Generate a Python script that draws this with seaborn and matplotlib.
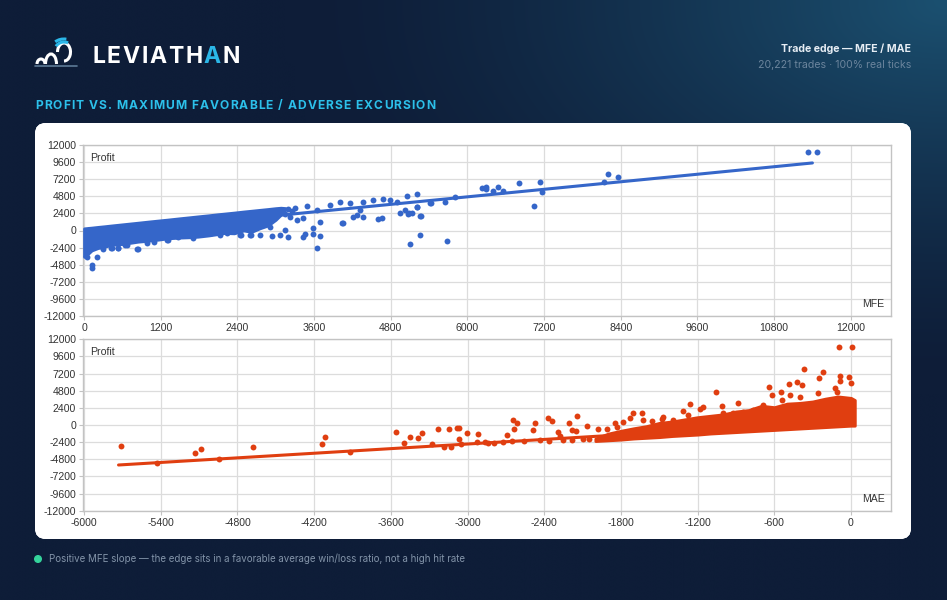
import numpy as np
import pandas as pd
import seaborn as sns
import matplotlib.pyplot as plt
from matplotlib.patches import FancyBboxPatch, Arc, Circle

sns.set_style("white")
plt.rcParams['font.family'] = ['Liberation Sans', 'DejaVu Sans']
plt.rcParams['axes.unicode_minus'] = False

## values
profit_ticks = [-12000, -9600, -7200, -4800, -2400, 0, 2400, 4800, 7200, 9600, 12000]
mfe_ticks = [0, 1200, 2400, 3600, 4800, 6000, 7200, 8400, 9600, 10800, 12000]
mae_ticks = [-6000, -5400, -4800, -4200, -3600, -3000, -2400, -1800, -1200, -600, 0]

# dense cloud of trades (outline of the solid band)
mfe_band = [0, 30, 60, 120, 220, 320, 420, 600, 845, 1000, 1150, 1315, 1500, 1650, 1785,
            1950, 2100, 2200, 2350, 2500, 2620, 2750, 2880, 3000, 3080, 3150]
mfe_band_hi = [300, 330, 360, 410, 510, 600, 700, 870, 1100, 1250, 1390, 1540, 1720, 1860,
               1990, 2140, 2290, 2380, 2520, 2670, 2780, 2900, 3020, 3140, 3200, 3150]
mfe_band_lo = [-3700, -3500, -3300, -2800, -2460, -2300, -2040, -1900, -1570, -1450, -1300,
               -1100, -1000, -950, -870, -700, -500, -350, -400, 0, -200, 300, 700, 1500,
               2200, 2900]

# separate trades outside the band
mfe_x = [52, 120, 120, 200, 433, 537, 824, 668, 1294, 2128, 2233, 2440, 2600, 2754, 2937,
         3067, 3197, 3146, 2911, 3432, 3459, 3589, 3589, 3693, 3651, 3693, 3328, 3432, 4058,
         4215, 4371, 4606, 4658, 4945, 5102, 5258, 5075, 5206, 5258, 5676, 5050, 5206, 5415,
         5650, 5806, 3485, 3641, 3850, 4006, 4163, 4366, 4528, 4684, 4789, 4893, 4319, 4267,
         4033, 5128, 5268, 5425, 5023, 5216, 5091, 6224, 6291, 6291, 6405, 6484, 6562, 6812,
         7047, 7136, 7162, 8138, 8206, 8362, 11326, 11477,
         428, 532, 637, 845, 1315, 1471, 1993, 2202, 2462, 2618, 300, 980, 1100, 1700,
         3200, 3260, 3300, 3150, 3230]
mfe_profit = [-3760, -4840, -5300, -3680, -2410, -2410, -2600, -2040, -1330, -630, -400, -630,
              -630, -630, -770, -680, -960, 70, 450, -960, -490, 300, -490, -730, -2500, 1150,
              1470, 1710, 1010, 1850, 1940, 1570, 1710, 2500, -1900, -680, 2310, 3340, 2080,
              -1430, 4840, 5120, 3900, 4040, 4740, 3440, 2880, 3580, 4040, 3900, 4040, 4280,
              4380, 4280, 4040, 2880, 2180, 1010, 2410, 2030, 3900, 2880, 3340, 2410, 6010,
              6150, 5820, 5540, 6150, 5590, 6620, 3440, 6850, 5360, 6810, 7890, 7550, 11060, 11060,
              -2500, -2500, -2040, -2640, -1330, -870, -400, 70, -630, -630, -2600, -1800,
              -1650, -1100,
              3000, 2700, 3200, 2300, 1900]
mfe_trend = [0, 11400]
mfe_trend_profit = [-560, 9480]

mae_band = [-2000, -1900, -1800, -1700, -1600, -1500, -1400, -1300, -1200, -1100, -1000,
            -900, -800, -700, -600, -500, -400, -300, -200, -100, 0, 30]
mae_band_hi = [-1900, -1200, -800, -450, -150, 300, 500, 800, 1100, 1300, 1500, 1900, 2100,
               2700, 2500, 3000, 3100, 3300, 3700, 4000, 3800, 3500]
mae_band_lo = [-2250, -2150, -2050, -1900, -1800, -1700, -1550, -1450, -1350, -1200, -1100,
               -1000, -900, -800, -700, -600, -500, -400, -300, -200, -100, -100]

mae_x = [-5713, -5431, -5132, -5087, -4944, -4681, -4136, -4113, -3919, -3559, -3497, -3452,
         -3390, -3356, -3278, -3228, -3184, -3145, -3129, -3085, -3067, -3067, -3051, -3006,
         -2916, -2928, -2863, -2837, -2790, -2720, -2650, -2560, -2430, -2360, -2250, -2180,
         -2100, -2050,
         -91, 5, -368, -221, -250, -86, -13, -86, 0, -641, -425, -485, -381, -1058, -550, -620,
         -1260, -1181, -1155, -1007, -882, -1312, -1278, -1473, -1703, -1637, -1625, -1729,
         -1781, -1846, -1911, -2141, -2204, -2185, -2068, -2373, -2341, -2472, -2485, -2646,
         -2615, -2634, -2693, -2290, -2277, -2151, -1977, -1833, -1559, -1481, -1390, -999,
         -921, -843, -764, -686, -542, -477, -399, -256, -125, -112]
mae_profit = [-2940, -5360, -3960, -3360, -4800, -3120, -2700, -1720, -3740, -1020, -2560, -1640,
              -1860, -1160, -2620, -600, -3120, -560, -3040, -380, -460, -1960, -2700, -1080,
              -1300, -2420, -2420, -2560, -2480, -2380, -2300, -2280, -2100, -2250, -2050,
              -2150, -1900, -2000,
              10960, 10960, 7840, 7460, 6620, 6860, 6760, 6200, 5920, 5360, 6060, 5740, 5600,
              4660, 4660, 4200, 2940, 2200, 2560, 2660, 3120, 1960, 1400, 1080, 1640, 1720, 700,
              940, 460, 320, -600, 1260, 240, -700, -140, 940, 600, 320, -700, 700, 240, -560,
              -1400, -940, -1540, -840, -600, -240, 560, 800, 700, 1720, 1640, 1860, 2100, 2800,
              3500, 4200, 3960, 4440, 5140, 4660]
mae_trend = [-5730, 0]
mae_trend_profit = [-5600, 560]

BLUE = "#3566c9"
RED = "#e03e10"

fig = plt.figure(figsize=(9.47, 6.0), dpi=100)

## background, panel and header texts drawn in pixel coordinates
bg = fig.add_axes([0, 0, 1, 1], zorder=-5)
bg.axis('off')
yy, xx = np.mgrid[0:600:60j, 0:947:95j]
glow = np.clip(1 - np.hypot((xx - 947) / 650, yy / 380), 0, 1) ** 1.4
base_c = np.array([14, 29, 56]) / 255
glow_c = np.array([27, 80, 112]) / 255
bg.imshow(base_c + (glow_c - base_c) * glow[..., None], extent=[0, 947, 600, 0],
          aspect='auto', interpolation='bicubic')

panel = FancyBboxPatch((35, 123), 876, 416, boxstyle="round,pad=0,rounding_size=11",
                       fc="white", ec="none")
bg.add_patch(panel)
py, px = np.mgrid[0:1:40j, 0:1:80j]
tint = np.clip((px - 0.55) / 0.45, 0, 1) * np.clip(1 - py / 0.55, 0, 1)
tint_c = np.array([222, 244, 251]) / 255
ptint = 1 + (tint_c - 1) * tint[..., None]
im = bg.imshow(ptint, extent=[35, 911, 539, 123], aspect='auto', interpolation='bicubic')
im.set_clip_path(panel)
bg.set_xlim(0, 947)
bg.set_ylim(600, 0)

renderer = fig.canvas.get_renderer()


def text_width(s, **kw):
    t = bg.text(0, 0, s + "I", **kw)
    t2 = bg.text(0, 0, "I", **kw)
    w = t.get_window_extent(renderer).width - t2.get_window_extent(renderer).width
    t.remove()
    t2.remove()
    return w


def spaced(x, y, s, tracking, colors, **kw):
    for i, ch in enumerate(s):
        xi = x + text_width(s[:i], **kw) + i * tracking
        bg.text(xi, y, ch, color=colors[i], ha='left', va='center', **kw)


head = dict(family=['Inter', 'DejaVu Sans'], fontweight='bold')
spaced(92, 57, "LEVIATHAN", 1.7, ["white"] * 7 + ["#2bb7e8", "white"], fontsize=16.5, **head)
spaced(35, 106, "PROFIT VS. MAXIMUM FAVORABLE / ADVERSE EXCURSION", 1.05,
       ["#2cc0ea"] * 48, fontsize=8.7, **head)

# logo: little sea serpent
for cx, cy, w, h, t1, t2, col in [(41, 64, 8, 10, 180, 360, "white"),
                                  (51, 64, 11, 20, 180, 360, "white"),
                                  (64, 52, 13, 18, 180, 450, "white"),
                                  (64, 50, 18, 16, 205, 300, "#2bb7e8"),
                                  (64, 48, 24, 18, 215, 285, "#2bb7e8")]:
    bg.add_patch(Arc((cx, cy), w, h, theta1=t1, theta2=t2, color=col, lw=2.2))
bg.plot([35, 77], [66, 66], color="#5d7a96", lw=1.2)

bg.text(911, 49, "Trade edge \u2014 MFE / MAE", ha='right', va='center', fontsize=7.6,
        color="#e6edf4", **head)
bg.text(911, 65, "20,221 trades \u00b7 100% real ticks", ha='right', va='center',
        fontsize=7.6, color="#6c859d", family=['Inter', 'DejaVu Sans'])

bg.add_patch(Circle((38, 559), 3.3, color="#35d49c"))
bg.text(49, 559, "Positive MFE slope \u2014 the edge sits in a favorable average win/loss ratio, "
        "not a high hit rate", ha='left', va='center', fontsize=7.0, color="#8394a9",
        family=['Inter', 'DejaVu Sans'])


## the two scatter charts
def style_axis(ax, xticks, xlim, xname):
    ax.set_facecolor("none")
    ax.set_xlim(*xlim)
    ax.set_ylim(-12000, 12000)
    ax.set_xticks(xticks)
    ax.set_yticks(profit_ticks)
    ax.grid(True, color="#dcdcdc", lw=0.9)
    ax.set_axisbelow(True)
    for sp in ax.spines.values():
        sp.set_color("#c3c3c3")
        sp.set_linewidth(1.0)
    ax.tick_params(axis='both', length=3, color="#c3c3c3", labelsize=7.6,
                   labelcolor="#333333", pad=2, left=True, bottom=True)
    ax.set_xlabel("")
    ax.set_ylabel("")
    ax.text(0.009, 0.955, "Profit", transform=ax.transAxes, ha='left', va='top',
            fontsize=7.6, color="#333333")
    ax.text(0.992, 0.04, xname, transform=ax.transAxes, ha='right', va='bottom',
            fontsize=7.6, color="#333333")


ax1 = fig.add_axes([83 / 947, 1 - 316 / 600, 808 / 947, 171 / 600])
ax2 = fig.add_axes([83 / 947, 1 - 510.7 / 600, 808 / 947, 171.4 / 600])

ax1.fill_between(mfe_band, mfe_band_lo, mfe_band_hi, color=BLUE, lw=2, zorder=3)
sns.lineplot(x=mfe_trend, y=mfe_trend_profit, ax=ax1, color=BLUE, lw=2.2, zorder=2)
sns.scatterplot(x=mfe_x, y=mfe_profit, ax=ax1, color=BLUE, s=18, linewidth=0, zorder=4)
style_axis(ax1, mfe_ticks, (-16, 12630), "MFE")

ax2.fill_between(mae_band, mae_band_lo, mae_band_hi, color=RED, lw=2, zorder=3)
sns.lineplot(x=mae_trend, y=mae_trend_profit, ax=ax2, color=RED, lw=2.2, zorder=2)
sns.scatterplot(x=mae_x, y=mae_profit, ax=ax2, color=RED, s=18, linewidth=0, zorder=4)
style_axis(ax2, mae_ticks, (-6008, 313), "MAE")

fig.savefig("out.png", dpi=100)
